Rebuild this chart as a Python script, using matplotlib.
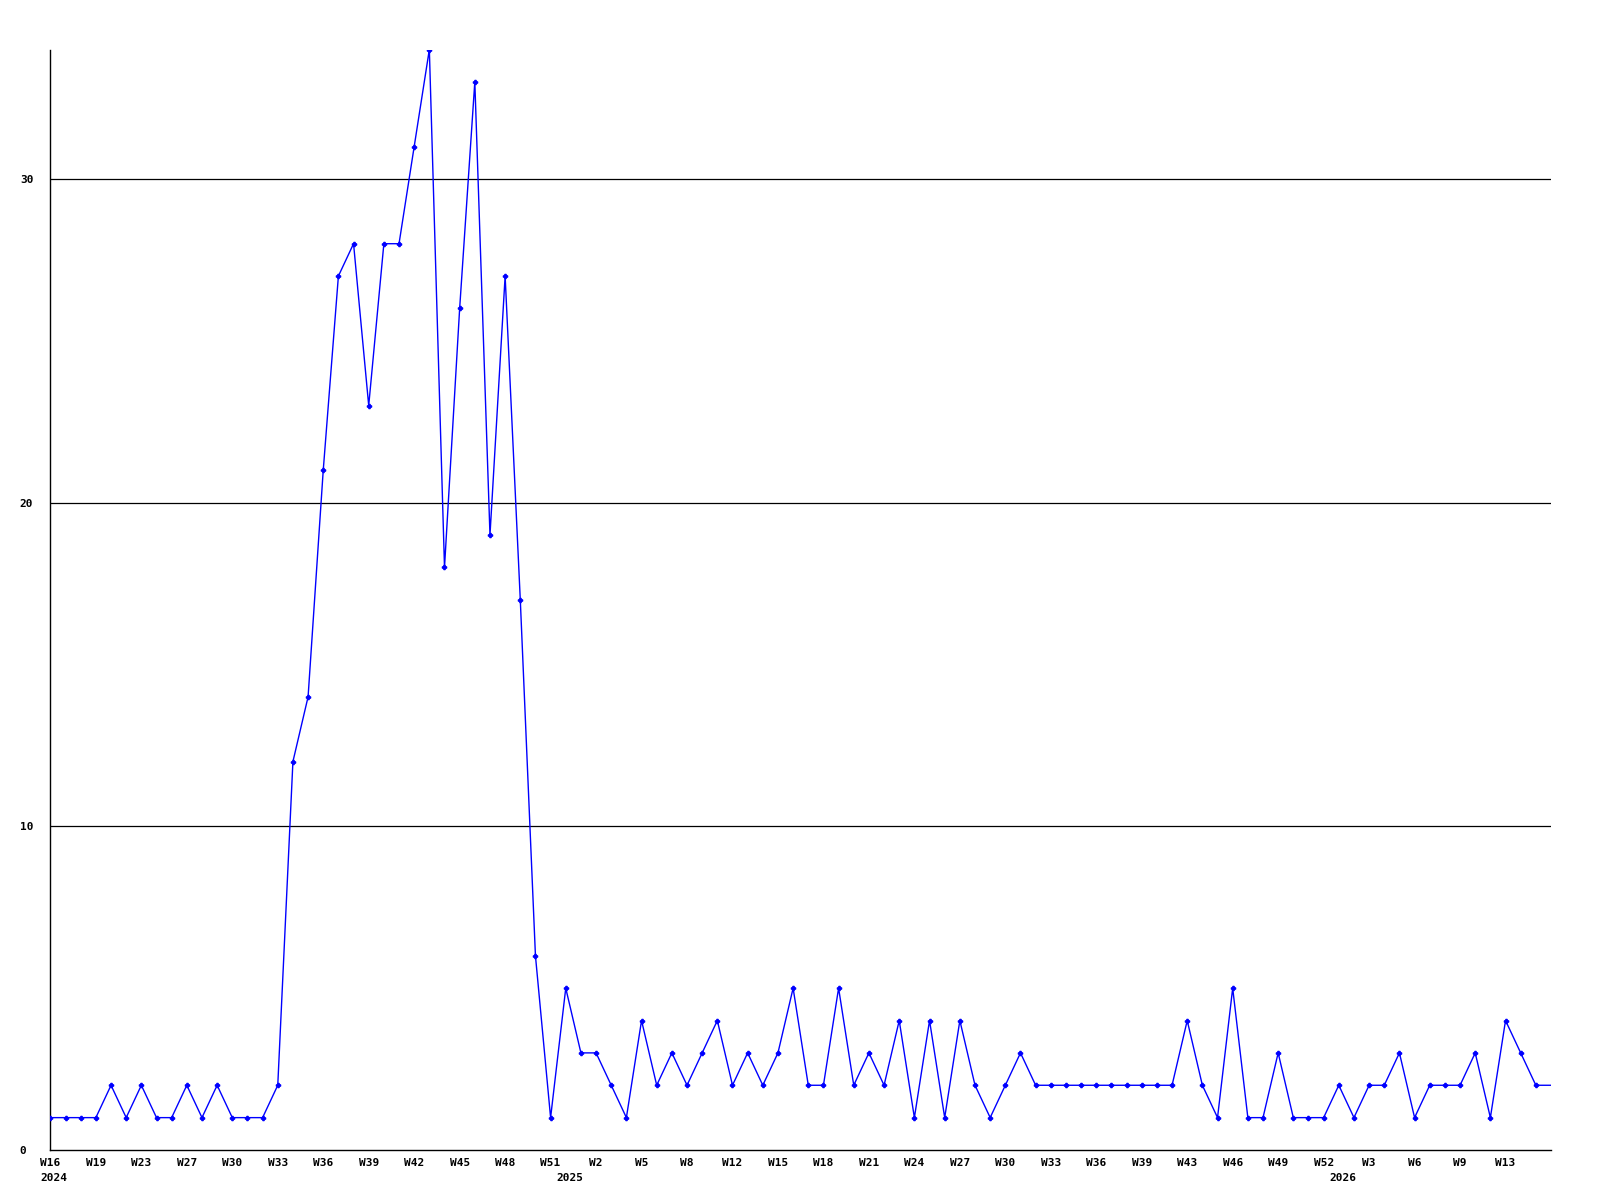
#!/usr/bin/env python3

import numpy as np
import matplotlib
matplotlib.use("Agg")
import matplotlib.pyplot as plt
import matplotlib.transforms as mtransforms


# weekly counts, W16 2024 .. 2026
counts = [1, 1, 1, 1, 2, 1, 2, 1, 1, 2, 1, 2, 1, 1, 1, 2,
          12, 14, 21, 27, 28, 23, 28, 28, 31, 34, 18, 26, 33, 19, 27, 17,
          6, 1, 5, 3, 3, 2, 1, 4, 2, 3, 2, 3, 4, 2, 3, 2, 3, 5,
          2, 2, 5, 2, 3, 2, 4, 1, 4, 1, 4, 2, 1, 2, 3, 2, 2, 2,
          2, 2, 2, 2, 2, 2, 2, 4, 2, 1, 5, 1, 1, 3, 1, 1, 1, 2,
          1, 2, 2, 3, 1, 2, 2, 2, 3, 1, 4, 3, 2, 2]

week_labels = ["W16", "W19", "W23", "W27", "W30", "W33", "W36", "W39", "W42",
               "W45", "W48", "W51", "W2", "W5", "W8", "W12", "W15", "W18",
               "W21", "W24", "W27", "W30", "W33", "W36", "W39", "W43", "W46",
               "W49", "W52", "W3", "W6", "W9", "W13"]
week_pos = list(range(0, 3 * len(week_labels), 3))

year_labels = ["2024", "2025", "2026"]
year_pos = [0.2, 34.3, 85.3]

yticks = [0, 10, 20, 30]


def main():
    font = dict(family="DejaVu Sans Mono", weight="bold", size=8)

    fig = plt.figure(figsize=(16, 12), dpi=100)
    ax = fig.add_axes([50.4 / 1600, 1 - 1150 / 1200,
                       (1551 - 50.4) / 1600, (1150 - 49.5) / 1200])

    x = np.arange(len(counts))
    ax.plot(x, counts, color="#0000ff", linewidth=1.0,
            marker="P", markersize=3, markevery=list(range(len(counts) - 1)),
            zorder=3)

    ax.set_xlim(0, len(counts) - 1)
    ax.set_ylim(0, max(counts))

    for v in yticks[1:]:
        ax.axhline(v, color="black", linewidth=0.9, zorder=1)

    for s in ("top", "right"):
        ax.spines[s].set_visible(False)
    for s in ("left", "bottom"):
        ax.spines[s].set_color("black")
        ax.spines[s].set_linewidth(1.0)

    ax.set_xticks(week_pos)
    ax.set_xticklabels(week_labels, **font)
    ax.set_yticks(yticks)
    ax.set_yticklabels([str(v) for v in yticks], **font)
    ax.tick_params(axis="x", length=0, pad=6)
    ax.tick_params(axis="y", length=0, pad=22)
    for lab in ax.get_yticklabels():
        lab.set_horizontalalignment("left")

    trans = mtransforms.blended_transform_factory(ax.transData, fig.transFigure)
    for pos, lab in zip(year_pos, year_labels):
        ax.text(pos, 1 - 1178 / 1200, lab, transform=trans, ha="center",
                va="center", clip_on=False, **font)

    plt.savefig("out.png", dpi=100)


if __name__ == '__main__':
    main()
